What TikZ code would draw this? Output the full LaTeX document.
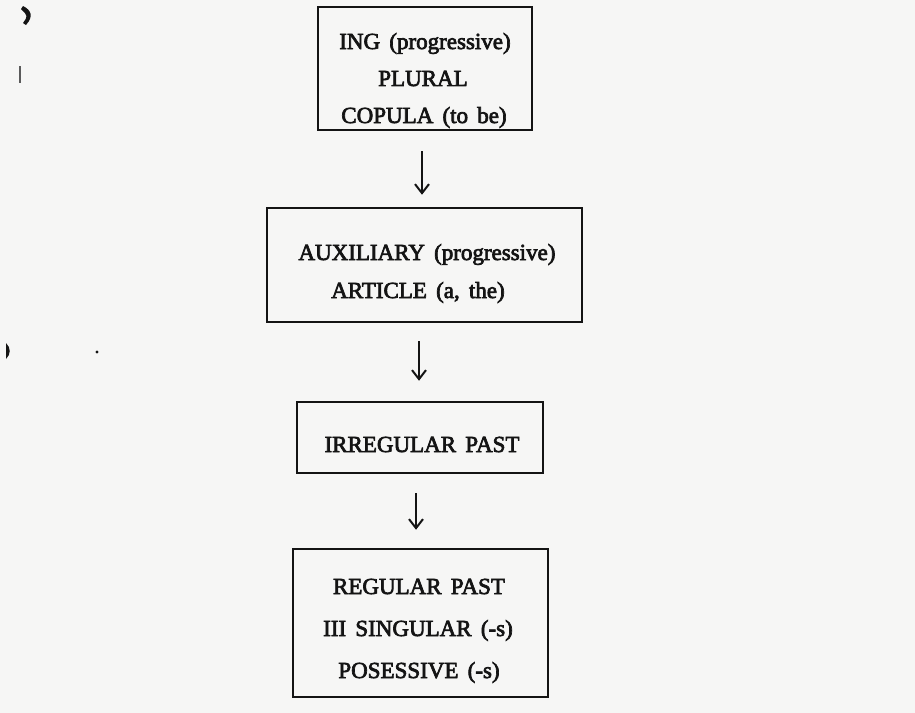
\documentclass[tikz,border=0pt]{standalone}
\usepackage{fontspec}
\setmainfont{Liberation Serif}
\newfontfamily\scanfont{Liberation Serif}[RawFeature={embolden=3},WordSpace=1.6]
\usetikzlibrary{arrows.meta,calc}
\definecolor{paper}{RGB}{246,246,245}
\definecolor{ink}{RGB}{20,20,20}
\begin{document}
\begin{tikzpicture}[x=0.5bp,y=-0.5bp,
  box/.style={draw=ink,line width=1.25bp,rectangle,inner sep=0pt},
  lbl/.style={anchor=base,inner sep=0pt,text=ink,font=\scanfont\fontsize{11.5bp}{13bp}\selectfont},
  arr/.style={draw=ink,line width=1bp,-{Straight Barb[length=4.5bp,width=7bp]}},
  speck/.style={fill=ink}]
\fill[paper] (0,0) rectangle (915,713);
\useasboundingbox (0,0) rectangle (915,713);

% boxes
\node[box,minimum width=107bp,minimum height=61.5bp] (b1) at (425,68.5) {};
\node[box,minimum width=157.5bp,minimum height=57bp] (b2) at (424.5,265) {};
\node[box,minimum width=123bp,minimum height=35.5bp] (b3) at (420,437.5) {};
\node[box,minimum width=127.5bp,minimum height=74bp] (b4) at (420.5,623) {};

% texts
\node[lbl] (t11) at (425,49) {ING (progressive)};
\node[lbl] (t12) at (423,86) {PLURAL};
\node[lbl] (t13) at (424,123) {COPULA (to be)};
\node[lbl] (t21) at (427,260) {AUXILIARY (progressive)};
\node[lbl] (t22) at (418,298) {ARTICLE (a, the)};
\node[lbl] (t31) at (422,452) {IRREGULAR PAST};
\node[lbl] (t41) at (419,594) {REGULAR PAST};
\node[lbl] (t42) at (418,636) {III SINGULAR (-s)};
\node[lbl] (t43) at (419,678) {POSESSIVE (-s)};

% arrows
\draw[arr] ($(b1.south)+(-3,20)$) -- ($(b2.north)+(-2.5,-12)$);
\draw[arr] ($(b2.south)+(-5.5,18)$) -- ($(b3.north)+(-1,-20)$);
\draw[arr] ($(b3.south)+(-4,19)$) -- ($(b4.north)+(-4.5,-18)$);

% scan marks at the page edge
\fill[speck] (23,6) .. controls (31,10) and (34,16) .. (26,25) -- (23,23) .. controls (28,16) .. (21,9) -- cycle;
\draw[ink!70,line width=0.9bp] (20,66) -- (20,83);
\fill[speck] (6,343) .. controls (11,348) and (11,354) .. (6,359) -- cycle;
\fill[speck] (97,352) circle (1.6);
\end{tikzpicture}
\end{document}
